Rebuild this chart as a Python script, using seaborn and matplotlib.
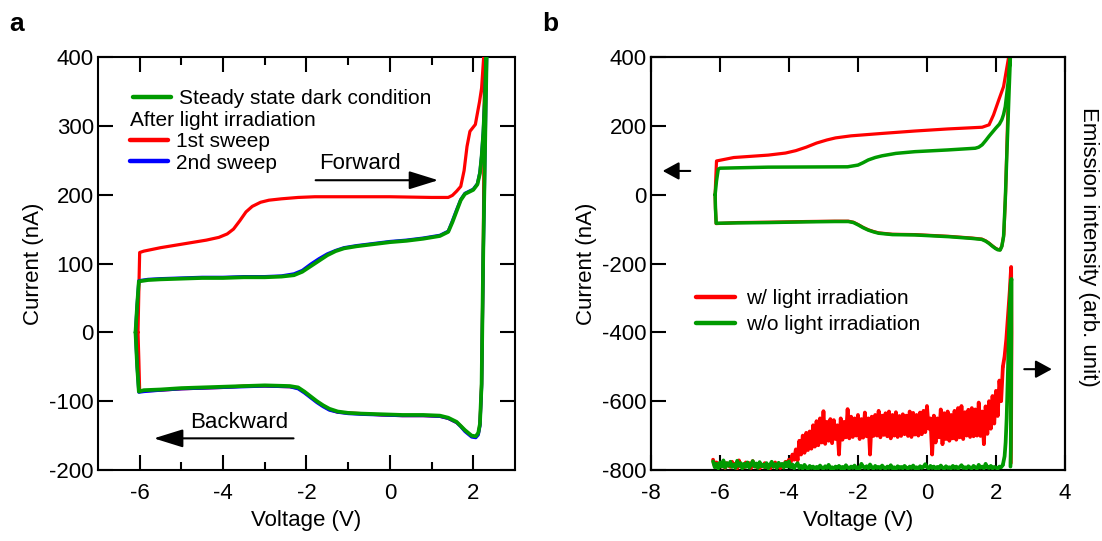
import numpy as np
import pandas as pd
import matplotlib
matplotlib.use("Agg")
import matplotlib.pyplot as plt
from matplotlib.lines import Line2D
import seaborn as sns

# ---------------- panel a: I-V loops ----------------
# steady state dark condition (forward then backward sweep)
dark_V = [-6.10, -6.06, -6.02, -5.80, -5.50, -5.00, -4.50, -4.00, -3.50, -3.00, -2.60, -2.30,
          -2.10, -1.90, -1.70, -1.50, -1.30, -1.10, -0.80, -0.40, 0.00, 0.40, 0.80, 1.20,
          1.40, 1.50, 1.60, 1.70, 1.80, 1.90, 2.00, 2.10, 2.16, 2.20, 2.24, 2.28, 2.31, 2.33,
          2.30, 2.27, 2.24, 2.20, 2.16, 2.12, 2.06, 1.96, 1.88, 1.80, 1.70, 1.60, 1.50, 1.40,
          1.20, 0.80, 0.30, -0.20, -0.70, -1.00, -1.25, -1.45, -1.60, -1.75, -1.90, -2.05,
          -2.20, -2.40, -3.00, -3.50, -4.00, -4.50, -5.00, -5.50, -5.90, -6.02, -6.06, -6.10]
dark_I = [0, 40, 74, 76, 77, 78, 79, 79, 80, 80, 81, 83,
          88, 96, 104, 112, 118, 122, 125, 128, 131, 133, 136, 140,
          146, 160, 176, 192, 201, 204, 207, 215, 231, 255, 289, 340, 400, 430,
          330, 220, 119, -75, -133, -146, -151, -150, -146, -142, -136, -130, -127, -124,
          -121, -120, -120, -119, -118, -117, -115, -111, -106, -100, -93, -86,
          -80, -78, -77, -78, -79, -80, -81, -83, -84, -86, -50, 0]

# after light irradiation, 2nd sweep
sweep2_V = dark_V
sweep2_I = [0, 41, 75, 77, 78, 79, 80, 80, 81, 81, 82, 85,
            90, 99, 107, 114, 119, 123, 126, 129, 132, 134, 137, 141,
            147, 162, 178, 193, 202, 205, 208, 216, 233, 257, 292, 345, 400, 430,
            325, 215, 112, -80, -136, -149, -153, -152, -148, -144, -137, -131, -128, -125,
            -122, -121, -121, -120, -119, -118, -116, -113, -108, -102, -95, -88,
            -82, -79, -78, -79, -80, -81, -82, -84, -86, -87, -50, 0]

# after light irradiation, 1st sweep
sweep1_V = [-6.04, -6.02, -6.00, -5.90, -5.50, -5.00, -4.70, -4.40, -4.10, -3.90, -3.75, -3.60,
            -3.45, -3.30, -3.10, -2.90, -2.60, -2.20, -1.80, -1.00, 0.00, 1.00, 1.40, 1.50,
            1.60, 1.70, 1.78, 1.85, 1.92, 2.05, 2.15, 2.20, 2.25, 2.27,
            2.26, 2.24, 2.20, 2.16, 2.12, 2.06, 1.96, 1.88, 1.80, 1.70, 1.60, 1.50, 1.40,
            1.20, 0.80, 0.30, -0.20, -0.70, -1.00, -1.25, -1.45, -1.60, -1.75, -1.90, -2.05,
            -2.20, -2.40, -3.00, -3.50, -4.00, -4.50, -5.00, -5.50, -5.90, -6.00, -6.02, -6.04]
sweep1_I = [0, 60, 116, 118, 123, 128, 131, 134, 138, 143, 150, 162,
            175, 183, 189, 192, 194, 196, 197, 197, 197, 196, 196, 199,
            205, 212, 235, 270, 292, 302, 335, 355, 400, 430,
            300, 119, -75, -134, -147, -152, -151, -147, -143, -136, -131, -128, -125,
            -122, -121, -121, -120, -118, -117, -116, -112, -107, -101, -94, -87,
            -81, -79, -78, -78, -80, -81, -82, -84, -85, -86, -40, 0]

# ---------------- panel b: I-V loops ----------------
bw_V = [-6.14, -6.12, -6.10, -5.60, -4.60, -4.10, -3.80, -3.50, -3.20, -2.90, -2.65, -2.20,
        -1.30, -0.35, 0.60, 1.60, 1.80, 1.93, 2.08, 2.22, 2.32, 2.37, 2.40,
        2.36, 2.33, 2.28, 2.23, 2.17, 2.12, 2.05, 1.98, 1.90, 1.79, 1.70, 1.59, 1.30, 0.63,
        -0.35, -1.00, -1.40, -1.55, -1.70, -1.85, -1.99, -2.13, -2.28, -2.67, -3.50, -4.61,
        -5.50, -6.11, -6.13, -6.14]
bw_I = [0, 50, 98, 108, 115, 121, 128, 138, 150, 159, 165, 171,
        178, 185, 191, 196, 203, 232, 275, 314, 372, 401, 430,
        300, 190, 10, -115, -150, -160, -159, -155, -149, -140, -134, -129, -126, -121,
        -116, -115, -111, -107, -102, -95, -87, -80, -77, -77, -78, -80,
        -81, -84, -40, 0]

bwo_V = [-6.14, -6.10, -6.05, -6.00, -4.60, -2.30, -2.00, -1.85, -1.70, -1.50, -1.30, -0.90,
         -0.35, 0.60, 1.40, 1.50, 1.60, 1.70, 1.80, 1.90, 2.00, 2.10, 2.17, 2.22, 2.27,
         2.31, 2.35, 2.39, 2.42,
         2.38, 2.35, 2.32, 2.27, 2.22, 2.17, 2.12, 2.05, 1.98, 1.90, 1.79, 1.70, 1.59, 1.30,
         0.63, -0.35, -1.00, -1.40, -1.55, -1.70, -1.85, -1.99, -2.13, -2.28, -2.67, -3.50,
         -4.61, -5.50, -6.11, -6.13, -6.14]
bwo_I = [0, 40, 74, 77, 80, 81, 86, 93, 101, 108, 113, 120,
         125, 130, 135, 138, 145, 157, 170, 182, 194, 205, 218, 233, 256,
         290, 325, 375, 405,
         300, 215, 130, -15, -122, -150, -161, -160, -156, -150, -141, -135, -130, -127,
         -122, -117, -116, -112, -108, -103, -96, -88, -81, -78, -78, -79,
         -81, -82, -83, -40, 0]

# ---------------- panel b: emission intensity (arb. unit) ----------------
em_V = [-6.20, -6.15, -6.10, -6.05, -6.00, -5.95, -5.90, -5.85, -5.80, -5.75,
        -5.70, -5.65, -5.60, -5.55, -5.50, -5.45, -5.40, -5.35, -5.30, -5.25,
        -5.20, -5.15, -5.10, -5.05, -5.00, -4.95, -4.90, -4.85, -4.80, -4.75,
        -4.70, -4.65, -4.60, -4.55, -4.50, -4.45, -4.40, -4.35, -4.30, -4.25,
        -4.20, -4.15, -4.10, -4.05, -4.00, -3.95, -3.90, -3.85, -3.80, -3.75,
        -3.70, -3.65, -3.60, -3.55, -3.50, -3.45, -3.40, -3.35, -3.30, -3.25,
        -3.20, -3.15, -3.10, -3.05, -3.00, -2.95, -2.90, -2.85, -2.80, -2.75,
        -2.70, -2.65, -2.60, -2.55, -2.50, -2.45, -2.40, -2.35, -2.30, -2.25,
        -2.20, -2.15, -2.10, -2.05, -2.00, -1.95, -1.90, -1.85, -1.80, -1.75,
        -1.70, -1.65, -1.60, -1.55, -1.50, -1.45, -1.40, -1.35, -1.30, -1.25,
        -1.20, -1.15, -1.10, -1.05, -1.00, -0.95, -0.90, -0.85, -0.80, -0.75,
        -0.70, -0.65, -0.60, -0.55, -0.50, -0.45, -0.40, -0.35, -0.30, -0.25,
        -0.20, -0.15, -0.10, -0.05, 0.00, 0.05, 0.10, 0.15, 0.20, 0.25,
        0.30, 0.35, 0.40, 0.45, 0.50, 0.55, 0.60, 0.65, 0.70, 0.75,
        0.80, 0.85, 0.90, 0.95, 1.00, 1.05, 1.10, 1.15, 1.20, 1.25,
        1.30, 1.35, 1.40, 1.45, 1.50, 1.55, 1.60, 1.65, 1.70, 1.75,
        1.80, 1.85, 1.90, 1.95, 2.00, 2.05, 2.10, 2.15, 2.20]

em_light = [30, 12, 22, 8, 18, 10, 25, 6, 20, 14,
            9, 24, 12, 18, 5, 28, 10, 16, 8, 22,
            12, 20, 6, 26, 14, 9, 18, 5, 15, 10,
            20, 8, 14, 4, 18, 10, 22, 7, 13, 6,
            16, 10, 24, 18, 30, 22, 45, 30, 60, 28,
            85, 45, 100, 50, 108, 58, 112, 62, 130, 68,
            142, 72, 150, 80, 171, 76, 140, 85, 148, 78,
            145, 90, 130, 45, 150, 88, 140, 95, 177, 92,
            155, 96, 150, 100, 160, 90, 148, 94, 167, 98,
            150, 45, 155, 99, 160, 100, 172, 95, 158, 102,
            165, 98, 170, 92, 160, 100, 168, 96, 157, 99,
            162, 104, 158, 99, 170, 96, 166, 103, 160, 100,
            167, 104, 172, 110, 186, 120, 150, 45, 158, 80,
            150, 95, 176, 75, 165, 90, 170, 85, 160, 92,
            172, 88, 180, 95, 186, 90, 168, 100, 175, 96,
            180, 98, 176, 100, 196, 99, 170, 75, 185, 105,
            200, 120, 215, 135, 230, 157, 260, 200, 300]
em_light_tail_V = [2.20, 2.25, 2.30, 2.35, 2.40, 2.44, 2.45, 2.44, 2.43]
em_light_tail = [300, 330, 380, 450, 520, 590, 400, 150, 20]

em_dark = [25, 8, 18, 5, 22, 10, 28, 7, 20, 12,
           24, 9, 16, 6, 27, 12, 20, 5, 18, 9,
           22, 7, 15, 26, 10, 19, 6, 23, 11, 16,
           8, 20, 5, 15, 24, 9, 17, 6, 21, 12,
           18, 7, 22, 10, 25, 8, 16, 5, 14, 20,
           6, 12, 4, 15, 8, 3, 12, 6, 10, 4,
           9, 5, 13, 7, 4, 11, 6, 15, 5, 8,
           4, 10, 6, 12, 5, 9, 3, 14, 7, 5,
           10, 6, 13, 5, 8, 4, 18, 9, 6, 11,
           5, 16, 8, 4, 12, 6, 9, 5, 13, 7,
           4, 10, 6, 14, 5, 8, 3, 11, 6, 9,
           5, 12, 7, 4, 10, 6, 13, 5, 8, 4,
           11, 6, 9, 17, 8, 5, 12, 6, 10, 4,
           9, 5, 13, 7, 4, 11, 6, 8, 5, 12,
           6, 10, 4, 9, 14, 6, 8, 5, 11, 7,
           5, 12, 8, 4, 15, 7, 10, 5, 18, 8,
           6, 12, 5, 9, 7, 4, 10, 8, 15]
em_dark_tail_V = [2.20, 2.25, 2.28, 2.31, 2.34, 2.37, 2.40, 2.43, 2.45, 2.44, 2.43, 2.42]
em_dark_tail = [15, 40, 80, 150, 260, 380, 480, 545, 555, 300, 60, 10]

# ---------------- style ----------------
RED = "#ff0000"
GREEN = "#009a00"
BLUE = "#0000ff"

sns.set_theme(style="ticks")
plt.rcParams["font.family"] = ["Liberation Sans", "DejaVu Sans"]
plt.rcParams.update({
    "axes.linewidth": 1.5,
    "axes.unicode_minus": False,
    "xtick.direction": "in",
    "ytick.direction": "in",
    "xtick.major.width": 1.5,
    "ytick.major.width": 1.5,
    "xtick.minor.width": 1.5,
    "xtick.major.size": 11,
    "ytick.major.size": 11,
    "xtick.minor.size": 6,
    "xtick.labelsize": 16,
    "ytick.labelsize": 16,
    "axes.labelsize": 16,
    "axes.edgecolor": "black",
    "xtick.color": "black",
    "ytick.color": "black",
    "text.color": "black",
    "axes.labelcolor": "black",
})

fig = plt.figure(figsize=(11.02, 5.41), dpi=100)
ax_a = fig.add_axes([0.0889, 0.1312, 0.3784, 0.7634])
ax_b = fig.add_axes([0.5907, 0.1312, 0.3757, 0.7634])


def trace(ax, V, I, color, lw, z):
    sns.lineplot(x=V, y=I, ax=ax, sort=False, estimator=None, color=color,
                 linewidth=lw, zorder=z, legend=False)


# panel a curves
trace(ax_a, sweep1_V, sweep1_I, RED, 2.3, 3)
trace(ax_a, sweep2_V, sweep2_I, BLUE, 2.3, 4)
trace(ax_a, dark_V, dark_I, GREEN, 2.7, 5)

ax_a.set_xlim(-7, 3)
ax_a.set_ylim(-200, 400)
ax_a.set_xticks([-6, -4, -2, 0, 2])
ax_a.set_xticks([-5, -3, -1, 1], minor=True)
ax_a.set_yticks([-200, -100, 0, 100, 200, 300, 400])
ax_a.tick_params(axis="both", which="both", top=True, right=True, pad=9)
ax_a.tick_params(axis="y", pad=3)
ax_a.set_xlabel("Voltage (V)", labelpad=5)
ax_a.set_ylabel("Current (nA)", labelpad=4)

arrow_big = dict(arrowstyle="-|>,head_length=0.9,head_width=0.28", color="black",
                 lw=1.5, mutation_scale=20, shrinkA=0, shrinkB=0)
ax_a.annotate("", xy=(1.16, 221), xytext=(-1.78, 221), arrowprops=arrow_big)
ax_a.text(-0.72, 246, "Forward", fontsize=16, ha="center", va="center")
ax_a.annotate("", xy=(-5.66, -154), xytext=(-2.31, -154), arrowprops=arrow_big)
ax_a.text(-3.61, -131, "Backward", fontsize=16, ha="center", va="center")

leg1 = ax_a.legend(handles=[Line2D([], [], color=GREEN, lw=3.2)],
                   labels=["Steady state dark condition"], loc="upper left",
                   bbox_to_anchor=(0.085, 0.922), frameon=False, fontsize=15,
                   handlelength=1.8, handletextpad=0.4, borderaxespad=0, borderpad=0)
ax_a.add_artist(leg1)
ax_a.legend(handles=[Line2D([], [], color=RED, lw=3.2), Line2D([], [], color=BLUE, lw=3.2)],
            labels=["1st sweep", "2nd sweep"], title="After light irradiation",
            title_fontsize=15, alignment="left", loc="upper left",
            bbox_to_anchor=(0.077, 0.870), frameon=False, fontsize=15,
            handlelength=1.8, handletextpad=0.4, borderaxespad=0, borderpad=0,
            labelspacing=0.12)

# panel b curves
trace(ax_b, bw_V, bw_I, RED, 2.3, 3)
trace(ax_b, bwo_V, bwo_I, GREEN, 2.5, 4)

ax_b.set_xlim(-8, 4)
ax_b.set_ylim(-800, 400)
ax_b.set_xticks([-8, -6, -4, -2, 0, 2, 4])
ax_b.set_yticks([-800, -600, -400, -200, 0, 200, 400])
ax_b.tick_params(axis="both", which="both", top=True, right=True, labelright=False, pad=9)
ax_b.tick_params(axis="y", pad=3)
ax_b.set_xlabel("Voltage (V)", labelpad=5)
ax_b.set_ylabel("Current (nA)", labelpad=4)

ax_e = ax_b.twinx()
trace(ax_e, em_V, em_light, RED, 2.7, 3)
trace(ax_e, em_light_tail_V, em_light_tail, RED, 2.7, 3)
trace(ax_e, em_V, em_dark, GREEN, 2.7, 4)
trace(ax_e, em_dark_tail_V, em_dark_tail, GREEN, 2.7, 4)
ax_e.set_ylim(0, 1200)
ax_e.set_yticks([])
ax_e.set_ylabel("Emission intensity (arb. unit)", rotation=270, fontsize=16,
                va="center", ha="center")
ax_e.yaxis.set_label_coords(1.056, 0.54)
for s in ax_e.spines.values():
    s.set_linewidth(1.5)

arrow_small = dict(arrowstyle="-|>,head_length=0.55,head_width=0.3", color="black",
                   lw=1.5, mutation_scale=18, shrinkA=0, shrinkB=0)
ax_b.annotate("", xy=(-7.66, 69), xytext=(-6.86, 69), arrowprops=arrow_small)
ax_b.annotate("", xy=(3.62, -507), xytext=(2.82, -507), arrowprops=arrow_small)

ax_b.legend(handles=[Line2D([], [], color=RED, lw=3.2), Line2D([], [], color=GREEN, lw=3.2)],
            labels=["w/ light irradiation", "w/o light irradiation"], loc="upper left",
            bbox_to_anchor=(0.108, 0.438), frameon=False, fontsize=15,
            handlelength=1.9, handletextpad=0.5, borderaxespad=0, borderpad=0,
            labelspacing=0.32)

fig.text(0.008, 0.955, "a", fontsize=19, fontweight="bold", va="center")
fig.text(0.492, 0.955, "b", fontsize=19, fontweight="bold", va="center")

fig.savefig("out.png", dpi=100)
